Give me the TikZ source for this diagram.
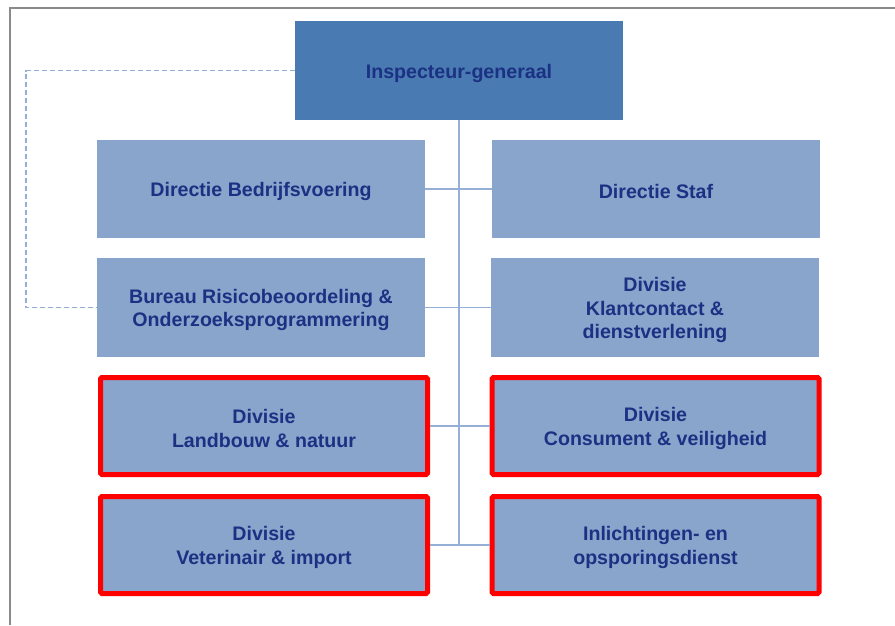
\documentclass[tikz,border=0pt]{standalone}
\usepackage{fontspec}
\setmainfont{Liberation Sans}
\usetikzlibrary{positioning}

\definecolor{topblue}{HTML}{4A7AB2}
\definecolor{boxblue}{HTML}{89A5CC}
\definecolor{textblue}{HTML}{1B3183}
\definecolor{lineblue}{HTML}{95AFD6}
\definecolor{framegray}{HTML}{8A8A8A}

% lowers the first line a little, as in the original
\newcommand{\unitstrut}{\rule{0pt}{19.5pt}}

\tikzset{
    unit/.style={fill=boxblue, minimum width=328pt, minimum height=98pt,
        align=center, text=textblue, inner sep=0pt,
        font=\bfseries\fontsize{19.6}{23.6}\selectfont},
    headunit/.style={unit, fill=topblue},
    redunit/.style={unit, draw=red, line width=5pt, rounded corners=1.5pt,
        minimum width=327pt, minimum height=97pt},
    orgline/.style={draw=lineblue, line width=1.2pt},
    dashline/.style={draw=lineblue, line width=1.2pt, dash pattern=on 5pt off 3pt}
}

\begin{document}
\begin{tikzpicture}[x=1pt, y=-1pt]

    \useasboundingbox (0, 0) rectangle (895, 625);

    % frame
    \draw[framegray, line width=2pt] (10, 625) -- (10, 8) -- (895, 8);

    % boxes
    \node[headunit, minimum height=99pt] (ig) at (459, 70.5)
        {\unitstrut Inspecteur-generaal};

    \node[unit] (bv)    at (261, 189)   {\unitstrut Directie Bedrijfsvoering};
    \node[unit] (staf)  at (656, 189)   {\unitstrut Directie Staf};
    \node[unit, minimum height=99pt] (bro) at (261, 307.5)
        {\unitstrut Bureau Risicobeoordeling \&\\Onderzoeksprogrammering};
    \node[unit, minimum height=99pt] (kcd) at (655, 307.5)
        {\unitstrut Divisie\\Klantcontact \&\\dienstverlening};

    \node[redunit] (ln)  at (264, 426)   {\unitstrut Divisie\\Landbouw \& natuur};
    \node[redunit] (cv)  at (655.5, 426) {\unitstrut Divisie\\Consument \& veiligheid};
    \node[redunit] (vi)  at (264, 545)   {\unitstrut Divisie\\Veterinair \& import};
    \node[redunit] (iod) at (655.5, 545) {\unitstrut Inlichtingen- en\\opsporingsdienst};

    % connectors
    \coordinate (spine) at (ig.south |- iod.west);
    \draw[orgline] (ig.south) -- (spine);

    \foreach \l/\r in {bv/staf, bro/kcd, ln/cv, vi/iod}
        \draw[orgline] (\l.east) -- (\r.west);

    \coordinate (dashcorner) at (26, 70.5);
    \draw[dashline] (ig.west) -- (dashcorner) |- (bro.west);

\end{tikzpicture}
\end{document}
